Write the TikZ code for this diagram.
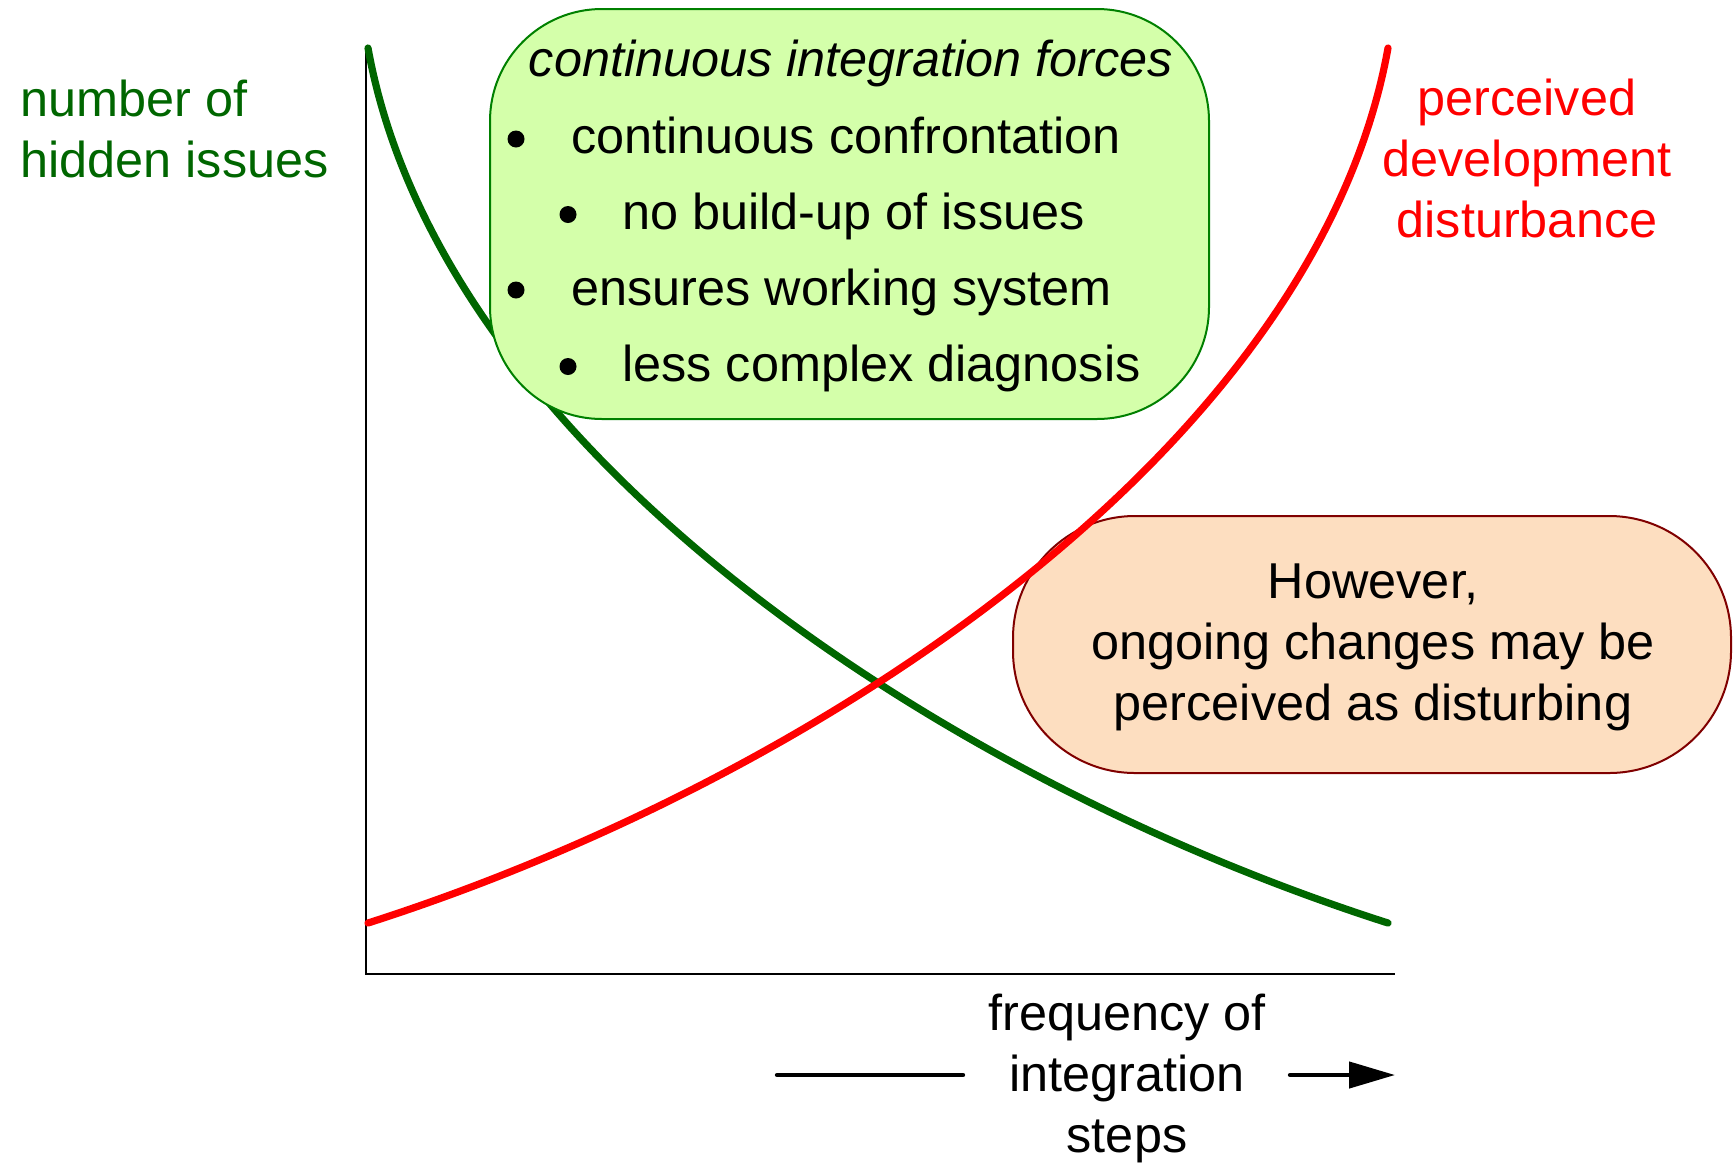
\documentclass[tikz,border=0pt]{standalone}
\usepackage{fontspec}
\setmainfont{Liberation Sans}
\usetikzlibrary{arrows.meta}
\definecolor{cgreen}{RGB}{0,102,0}
\definecolor{boxgreen}{RGB}{0,128,0}
\definecolor{fillgreen}{RGB}{212,255,170}
\definecolor{fillpeach}{RGB}{253,222,192}
\definecolor{darkred}{RGB}{128,0,0}
\begin{document}
\begin{tikzpicture}[x=0.5pt,y=-0.5pt,
  txt/.style={inner sep=0pt, font=\fontsize{25.2pt}{30.5pt}\selectfont},
  curvegreen/.style={draw=cgreen, line width=3.6pt, line cap=round},
  curvered/.style={draw=red, line width=3.6pt, line cap=round},
  axisline/.style={draw=black, line width=1.3pt},
  gbox/.style={draw=boxgreen, fill=fillgreen, line width=1pt, rounded corners=56pt,
    minimum width=359.5pt, minimum height=205pt, inner sep=0pt},
  obox/.style={draw=darkred, fill=fillpeach, line width=1pt, rounded corners=61pt,
    minimum width=359pt, minimum height=128.5pt, inner sep=0pt},
  bdot/.style={circle, fill=black, inner sep=0pt, minimum size=8.5pt},
  freqline/.style={draw=black, line width=2.2pt, line cap=round}]
\useasboundingbox (0,0) rectangle (1733,1163);

% peach box (behind the red curve)
\node[obox] (obx) at (1372,644.5) {};

% axes
\coordinate (ytop) at (366,50);
\coordinate (orig) at (366,974);
\coordinate (xend) at (1395,974);
\draw[axisline] (ytop) -- (orig) -- (xend);

% curves
\coordinate (g0) at (368,48);
\coordinate (g1) at (1388,923);
\coordinate (r0) at (1388,48);
\coordinate (r1) at (368,923);
\draw[curvegreen] (g0) .. controls (440,448) and (938,779) .. (g1);
\draw[curvered] (r0) .. controls (1316,448) and (818,779) .. (r1);

% green box
\node[gbox] (gbx) at (849.5,214) {};
\node[txt, anchor=base, font=\fontsize{25.2pt}{30.5pt}\selectfont\itshape] (ttl) at (851,76) {continuous integration forces};
\node[bdot] (b1) at (516,139) {};
\node[txt, anchor=base west] (t1) at (571,153) {continuous confrontation};
\node[bdot] (b2) at (568,214.5) {};
\node[txt, anchor=base west] (t2) at (622,229) {no build-up of issues};
\node[bdot] (b3) at (516,290) {};
\node[txt, anchor=base west] (t3) at (571,305) {ensures working system};
\node[bdot] (b4) at (568,366.5) {};
\node[txt, anchor=base west] (t4) at (622,381) {less complex diagnosis};

% peach box text
\node[txt, anchor=base, align=center] (otx) at (1373,720) {However,\\ongoing changes may be\\perceived as disturbing};

% axis labels
\node[txt, anchor=base west, align=left, text=cgreen] (ylab) at (20,177) {number of\\hidden issues};
\node[txt, anchor=base, align=center, text=red] (rlab) at (1527,237) {perceived\\development\\disturbance};
\node[txt, anchor=base, align=center] (xlab) at (1127,1152) {frequency of\\integration\\steps};

% frequency arrow
\coordinate (la) at (777,1075);
\coordinate (lb) at (963,1075);
\coordinate (ra) at (1290,1075);
\coordinate (rb) at (1395,1075);
\draw[freqline] (la) -- (lb);
\draw[freqline, -{Triangle[length=23pt,width=13pt]}] (ra) -- (rb);
\end{tikzpicture}
\end{document}
